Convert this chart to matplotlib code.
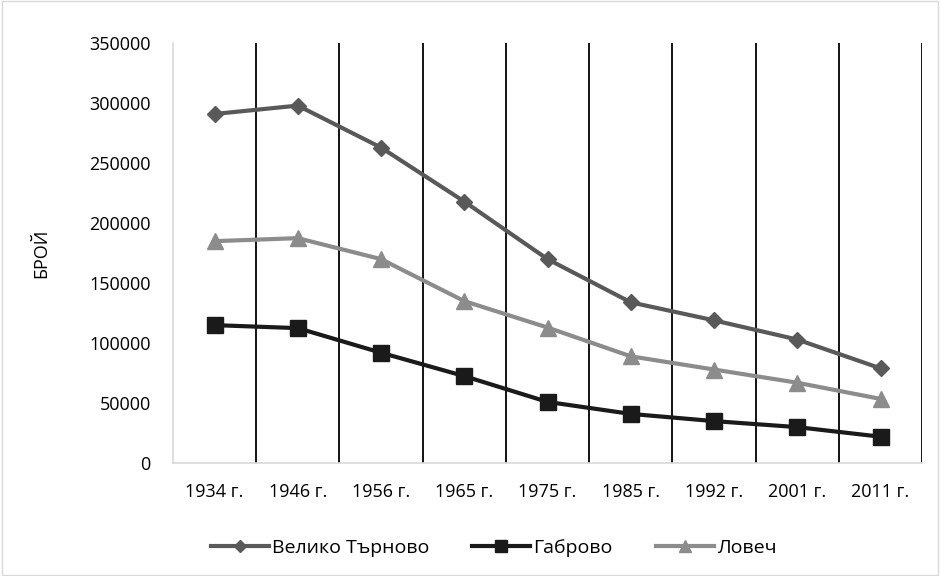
import numpy as np
import matplotlib
matplotlib.use('Agg')
import matplotlib.pyplot as plt
from matplotlib.patches import Rectangle

plt.rcParams['font.family'] = ['Open Sans', 'DejaVu Sans']

years = ['1934 г.', '1946 г.', '1956 г.', '1965 г.', '1975 г.', '1985 г.', '1992 г.', '2001 г.', '2011 г.']
veliko_tarnovo = [291000, 298000, 263000, 218000, 170000, 134000, 119000, 103000, 79000]
gabrovo = [115000, 112500, 92000, 72500, 51000, 41000, 35000, 30000, 22000]
lovech = [185000, 187500, 170000, 135000, 113000, 89000, 78000, 67000, 53500]

fig = plt.figure(figsize=(9.4, 5.76), dpi=100)
ax = fig.add_axes([0.184, 0.196, 0.797, 0.729])

x = np.arange(len(years))
ax.plot(x, veliko_tarnovo, color='#595959', lw=3, marker='D', ms=8, label='Велико Търново')
ax.plot(x, gabrovo, color='#1a1a1a', lw=3, marker='s', ms=11, label='Габрово')
ax.plot(x, lovech, color='#8c8c8c', lw=3, marker='^', ms=11, label='Ловеч')

ax.set_xlim(-0.5, len(years) - 0.5)
ax.set_ylim(0, 350000)
ax.set_yticks(np.arange(0, 350001, 50000))
ax.set_xticks(x)
ax.set_xticklabels(years, fontsize=13)
for b in np.arange(0.5, len(years), 1.0):
    ax.axvline(b, color='black', lw=1.3, zorder=0)

for s in ['top', 'right']:
    ax.spines[s].set_visible(False)
ax.spines['left'].set_color('#d9d9d9')
ax.spines['bottom'].set_color('#d9d9d9')
ax.spines['left'].set_linewidth(1.2)
ax.spines['bottom'].set_linewidth(1.2)
ax.tick_params(axis='both', length=0, labelsize=13, colors='black')
ax.tick_params(axis='x', pad=14)
ax.tick_params(axis='y', pad=16)
ax.set_ylabel('БРОЙ', fontsize=13, labelpad=28)

ax.legend(loc='center', bbox_to_anchor=(0.525, 0.049), bbox_transform=fig.transFigure,
          ncol=3, frameon=False, fontsize=14, handlelength=3.0, columnspacing=2.2,
          handletextpad=0.15, markerscale=0.75)

fig.patches.append(Rectangle((0.002, 0.002), 0.996, 0.996, transform=fig.transFigure,
                             fill=False, edgecolor='#d9d9d9', lw=1))

fig.savefig('out.png', dpi=100)
